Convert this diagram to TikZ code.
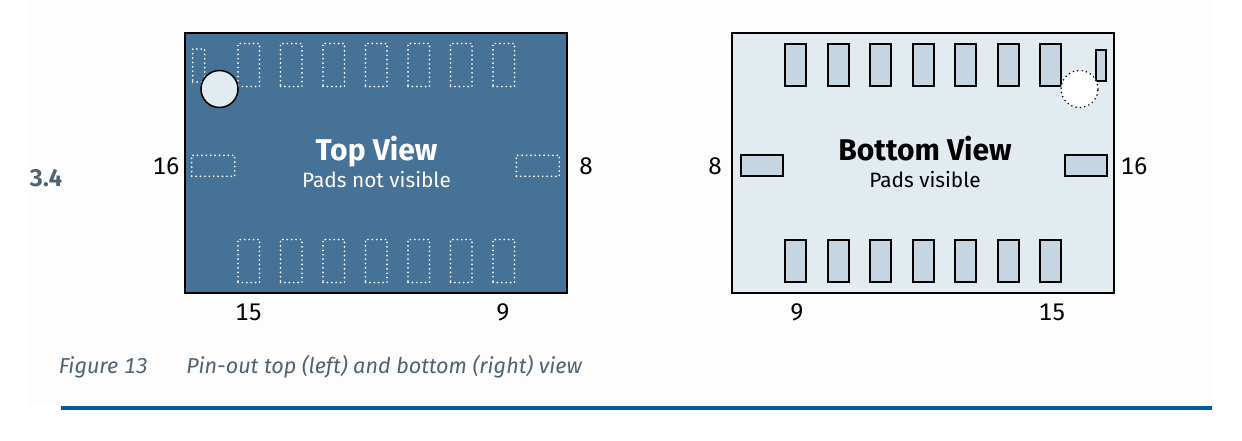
\documentclass[tikz,border=0pt]{standalone}
\usepackage{fontspec}
\setmainfont[Numbers={Lining,Monospaced}]{Fira Sans}
\definecolor{boardblue}{HTML}{467298}
\definecolor{boardpale}{HTML}{E1EBF0}
\definecolor{padfill}{HTML}{C5D6E2}
\definecolor{captiongrey}{HTML}{4F6272}
\definecolor{rulecolor}{HTML}{005C9A}
\definecolor{paper}{HTML}{FDFDFD}
\tikzset{
  board/.style={draw=black,line width=1.5*0.75pt,minimum width=382*0.75pt,minimum height=260*0.75pt,inner sep=0pt,outer sep=0pt},
  ghostpad/.style={draw=white,line width=1.9*0.75pt,line cap=round,dash pattern=on 0pt off 4.4*0.75pt,inner sep=0pt,outer sep=0pt},
  solidpad/.style={draw=black,fill=padfill,line width=1.7*0.75pt,inner sep=0pt,outer sep=0pt},
  pinlabel/.style={font=\fontsize{18}{20}\selectfont,text=black,inner sep=0pt,anchor=base},
  boardtitle/.style={font=\fontsize{22.5}{24}\selectfont\bfseries,inner sep=0pt,anchor=base},
  boardsub/.style={font=\fontsize{15.6}{18}\selectfont,inner sep=0pt,anchor=base},
  captext/.style={font=\fontsize{16.2}{20}\selectfont\itshape,text=captiongrey,anchor=base west,inner sep=0pt},
}
\newcommand{\padat}[6]{\node[#1,minimum width=#4*0.75pt,minimum height=#5*0.75pt,anchor=north west] (#6) at (#2,#3) {};}
\begin{document}
\begin{tikzpicture}[x=0.75pt,y=-0.75pt]
\useasboundingbox (0,0) rectangle (1242,440);
\fill[white] (0,0) rectangle (1242,440);
\fill[paper] (28,0) rectangle (1212,405);
% left board
\node[board,fill=boardblue,anchor=north west] (topboard) at (185,33) {};
\foreach \i in {0,...,6}{
  \pgfmathsetmacro{\px}{238+42.5*\i}
  \padat{ghostpad}{\px}{43.5}{21.5}{43}{topu\i}
  \padat{ghostpad}{\px}{239.5}{21.5}{43}{topd\i}
}
\padat{ghostpad}{192.7}{49}{12}{33}{topsmall}
\padat{ghostpad}{191.7}{155.3}{43}{21}{topleft}
\padat{ghostpad}{516.3}{155.3}{43}{21}{topright}
\node[circle,draw=black,fill=boardpale,line width=1.5*0.75pt,minimum size=37*0.75pt,inner sep=0pt] (topdot) at (219.5,89) {};
\node[boardtitle,text=white] (toptitle) at (376.5,160) {Top View};
\node[boardsub,text=white] (topsub) at (376.5,187.5) {Pads not visible};
% right board
\node[board,fill=boardpale,anchor=north west] (botboard) at (732,33) {};
\foreach \i in {0,...,6}{
  \pgfmathsetmacro{\px}{floor(785.5+42.5*\i)}
  \padat{solidpad}{\px}{44}{21}{42}{botu\i}
  \padat{solidpad}{\px}{240}{21}{42}{botd\i}
}
\padat{solidpad}{1096}{50}{10}{31}{botsmall}
\padat{solidpad}{741}{155}{42}{21}{botleft}
\padat{solidpad}{1065}{155}{42}{21}{botright}
\node[circle,draw=black,fill=white,line width=1.7*0.75pt,line cap=round,dash pattern=on 0pt off 4.4*0.75pt,minimum size=37*0.75pt,inner sep=0pt] (botdot) at (1079.5,89) {};
\node[boardtitle,text=black] (bottitle) at (925,160) {Bottom View};
\node[boardsub,text=black] (botsub) at (925,187.5) {Pads visible};
% pin labels
\node[pinlabel] (pa) at (166,174) {16};
\node[pinlabel] (pb) at (586,174) {8};
\node[pinlabel] (pc) at (248.5,320) {15};
\node[pinlabel] (pd) at (503,320) {9};
\node[pinlabel] (pe) at (715,174) {8};
\node[pinlabel] (pf) at (1134,174) {16};
\node[pinlabel] (pg) at (797,320) {9};
\node[pinlabel] (ph) at (1052,320) {15};
\node[font=\fontsize{18}{20}\selectfont\bfseries,text=captiongrey,inner sep=0pt,anchor=base] (secnum) at (46,186.5) {3.4};
\node[captext] (figlabel) at (58.5,373) {Figure 13};
\node[captext] (figcap) at (186,373) {Pin-out top (left) and bottom (right) view};
\fill[rulecolor] (61,405.5) rectangle (1212,410);
\end{tikzpicture}
\end{document}
